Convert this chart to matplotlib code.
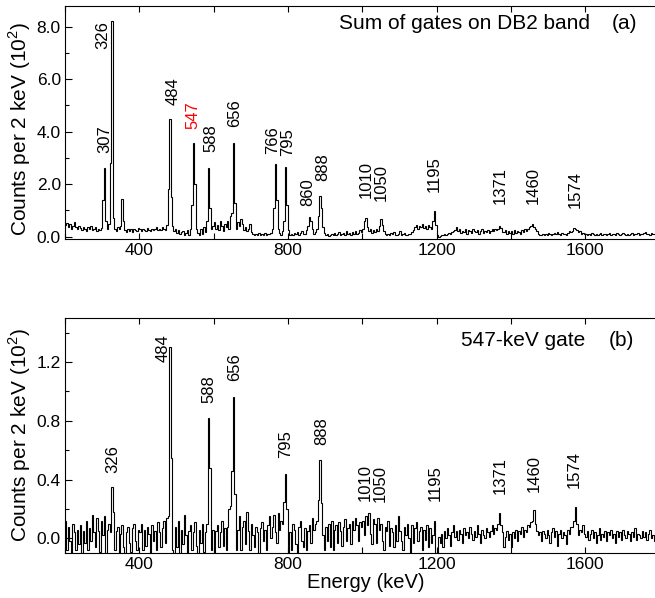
import matplotlib
matplotlib.use("Agg")
import matplotlib.pyplot as plt
import numpy as np
from matplotlib.ticker import MultipleLocator, FormatStrFormatter

plt.rcParams['font.family'] = ['Liberation Sans', 'DejaVu Sans']
plt.rcParams['mathtext.fontset'] = 'custom'
plt.rcParams['mathtext.rm'] = 'Liberation Sans'

# spectra: counts per 2 keV, binned 4 keV wide starting at 200 keV
bin_start = 200
bin_width = 4

sum_counts = [
    45, 52, 38, 48, 30, 42, 55, 35, 28, 40, 33, 25, 38, 30, 22, 35, 28, 40, 25, 30, 36, 22, 30, 27, 33,          # 200-300
    140, 260, 60, 30, 50, 280, 820, 70, 30, 22, 35, 28, 40, 145, 60, 25, 18, 30, 22, 28, 18, 30, 25, 20, 32,     # 300-400
    28, 22, 30, 25, 20, 32, 26, 22, 30, 25, 28, 35, 24, 30, 26, 38, 30, 25, 45, 180, 450, 150, 40, 20, 28,      # 400-500
    15, 25, 10, 18, 22, 8, 15, 25, 5, 30, 120, 355, 200, 30, 15, 5, 28, 10, 35, 18, 60, 260, 110, 30, 40,       # 500-600
    55, 30, 45, 25, 60, 40, 20, 50, 35, 58, 30, 80, 90, 355, 130, 30, 55, 40, 68, 50, 25, 35, 20, 30, 48,       # 600-700
    18, 10, 5, 12, 8, 15, 5, 10, 8, 14, 6, 10, 12, 15, 30, 110, 277, 140, 30, 15, 8, 20, 60, 265, 120,          # 700-800
    25, 8, 12, 5, 15, 10, 18, 8, 14, 20, 12, 10, 25, 40, 75, 60, 30, 12, 18, 30, 80, 155, 110, 35, 15,          # 800-900
    5, 10, 3, 8, 12, 5, 15, 8, 10, 18, 6, 12, 15, 8, 20, 10, 14, 6, 18, 12, 22, 10, 15, 25, 18,                 # 900-1000
    30, 60, 72, 35, 20, 28, 15, 25, 18, 30, 22, 40, 67, 45, 20, 10, 5, 12, 8, 15, 10, 18, 5, 8, 12,             # 1000-1100
    20, 6, 10, 15, 8, 5, 12, 10, 18, 25, 35, 45, 30, 42, 38, 50, 32, 40, 28, 45, 35, 30, 60, 97, 45,            # 1100-1200
    5, 0, 3, 8, 5, 10, 8, 12, 15, 10, 18, 22, 25, 35, 20, 28, 15, 22, 18, 30, 12, 25, 20, 15, 28,               # 1200-1300
    22, 18, 25, 12, 20, 30, 15, 22, 18, 25, 14, 20, 28, 22, 30, 25, 30, 42, 32, 18, 18, 25, 12, 20, 15,         # 1300-1400
    20, 12, 25, 15, 22, 18, 10, 24, 16, 28, 20, 30, 35, 42, 50, 38, 30, 20, 12, 8, 5, 10, 8, 12, 6,             # 1400-1500
    15, 10, 8, 12, 14, 10, 18, 12, 8, 15, 10, 12, 8, 15, 20, 18, 22, 34, 28, 25, 18, 20, 12, 15, 10,            # 1500-1600
    10, 8, 12, 6, 14, 10, 8, 12, 5, 10, 14, 8, 12, 10, 6, 12, 15, 8, 10, 12, 6, 14, 10, 8, 12,                  # 1600-1700
    15, 10, 8, 12, 6, 10, 14, 8, 12, 10, 15, 8, 12, 10, 14, 16, 10, 12, 8, 14, 10, 12, 15, 10, 12,              # 1700-1800
]

gate_counts = [
    12, -8, 8, -2, -10, 10, 4, -8, 6, -4, 9, -10, 5, -3, 12, -8, 7, -2, 16, 4, -6, 14, 5, -9, 12,               # 200-300
    2, 15, -10, 6, 10, 4, 35, 18, -8, 5, 8, -10, 3, 9, -6, -10, 4, 8, -3, -9, 7, 10, -2, -8, 6,                 # 300-400
    4, 10, -8, 6, -5, 8, 3, -10, 9, -2, 5, -8, 11, 4, -6, 7, 12, -3, 14, 15, 130, 55, -8, -10, 8,               # 400-500
    -6, 12, -10, 6, -4, 16, 2, -10, 5, 9, -8, 4, 11, -5, -10, 6, -3, 10, -9, 4, 10, 82, 48, -8, 6,              # 500-600
    -10, 5, 9, -6, 4, 12, -5, 7, -8, 8, 20, 22, 46, 96, 30, -8, 6, 15, -8, 8, 12, -4, 18, 5, -8,                # 600-700
    10, 2, -6, 8, 4, -10, 7, 11, -2, 6, -8, 9, 15, 0, 8, 16, 4, -3, 17, 6, 12, 10, 25, 44, 20,                  # 700-800
    -10, 4, -8, 10, 6, -4, -10, 8, 12, -2, -6, 7, -8, 5, 9, -3, 14, 6, 10, 12, 26, 53, 24, 2, -8,               # 800-900
    8, -2, 10, -6, 12, -8, 6, 9, -3, 11, 5, -5, 8, 13, -2, 7, 10, -4, 12, 6, 14, 9, -2, 11, 8,                  # 900-1000
    12, 2, 15, 9, 17, 3, -4, 13, 10, -3, 14, 6, 10, -2, -8, 8, 5, 12, -5, 7, 4, -6, 9, -2, 15,                  # 1000-1100
    5, -2, -8, 8, 2, 10, 0, -10, 9, -3, 7, 11, -2, 5, 8, -8, 6, -1, 9, -6, 7, -3, 2, 12, -10,                   # 1100-1200
    -10, 1, -3, 3, -6, 5, 0, 7, 2, -5, 4, 9, 1, 5, -1, 6, 3, -3, 7, 2, 4, 0, 8, 3, -1,                          # 1200-1300
    5, 1, 9, 3, -3, 6, 2, 0, 7, 4, 1, 5, 9, 3, 7, 6, 10, 17, 9, 4, -6, 1, 5, -1, 3,                             # 1300-1400
    -6, 4, 0, 6, -2, 5, 3, 8, 1, 6, 4, 9, 8, 11, 12, 19, 10, 5, 2, 4, -2, 5, 3, 0, 6,                           # 1400-1500
    2, -3, 4, 7, 1, 5, -5, 3, 6, 0, 4, 2, -4, 6, 3, 8, 8, 12, 21, 10, 2, 6, 4, 9, 3,                            # 1500-1600
    1, 5, -1, 3, 6, 0, 4, -3, 2, 7, -1, 3, 1, 5, -2, 4, 2, 6, 0, 3, -3, 5, 1, 4, -1,                            # 1600-1700
    6, 2, 0, 5, 3, -2, 4, 1, 7, -1, 3, 2, 0, 5, 1, 4, -1, 3, 6, 0, 2, -2, 4, 1, 5,                              # 1700-1800
]
assert len(sum_counts) == 400 and len(gate_counts) == 400

# peak labels: text, x position (keV), bottom of text (10^2 counts)
sum_labels = ['326', '307', '484', '547', '588', '656', '766', '795', '860', '888',
              '1010', '1050', '1195', '1371', '1460', '1574']
sum_label_x = [302, 308, 490, 544, 593, 657, 760, 800, 854, 894, 1010, 1050, 1195, 1371, 1460, 1573]
sum_label_y = [7.16, 3.19, 5.02, 4.10, 3.23, 4.18, 3.15, 3.07, 1.17, 2.12, 1.46, 1.36, 1.70, 1.24, 1.24, 1.09]
sum_label_colors = ['black'] * 3 + ['red'] + ['black'] * 12

gate_labels = ['326', '484', '588', '656', '795', '888', '1010', '1050', '1195', '1371', '1460', '1574']
gate_label_x = [330, 464, 588, 657, 795, 891, 1008, 1048, 1196, 1371, 1463, 1572]
gate_label_y = [0.445, 1.20, 0.92, 1.07, 0.55, 0.635, 0.255, 0.25, 0.255, 0.305, 0.315, 0.34]

edges = bin_start + bin_width * np.arange(len(sum_counts) + 1)

fig = plt.figure(figsize=(6.55, 5.98), dpi=100)
ax_a = fig.add_axes([65 / 655, 1 - 239.3 / 598, 590 / 655, 233.6 / 598])
ax_b = fig.add_axes([65 / 655, 1 - 553 / 598, 590 / 655, 235 / 598])


def style_axes(ax, ymin, ymax, ymajor, yminor):
    ax.set_xlim(200, 1788)
    ax.set_ylim(ymin, ymax)
    ax.xaxis.set_major_locator(MultipleLocator(400))
    ax.xaxis.set_minor_locator(MultipleLocator(200))
    ax.yaxis.set_major_locator(MultipleLocator(ymajor))
    ax.yaxis.set_minor_locator(MultipleLocator(yminor))
    ax.yaxis.set_major_formatter(FormatStrFormatter('%.1f'))
    ax.tick_params(axis='x', which='both', direction='in', top=True, length=4, width=0.8,
                   labelsize=12.5, pad=3)
    ax.tick_params(axis='y', which='major', direction='in', right=False, length=5, width=0.8,
                   labelsize=12.5, pad=3)
    ax.tick_params(axis='y', which='minor', direction='in', right=False, length=3, width=0.8)
    ax.spines['right'].set_visible(False)
    for side in ('top', 'bottom', 'left'):
        ax.spines[side].set_linewidth(0.8)
    ax.set_ylabel('Counts per 2 keV (10$^{2}$)', fontsize=15)


style_axes(ax_a, -0.1, 8.8, 2.0, 1.0)
style_axes(ax_b, -0.1, 1.5, 0.4, 0.2)
ax_a.yaxis.set_label_coords(-0.055, 0.47)
ax_b.yaxis.set_label_coords(-0.055, 0.5)

ax_a.stairs(np.array(sum_counts) / 100, edges, baseline=None, color='black', lw=0.8)
ax_b.stairs(np.array(gate_counts) / 100, edges, baseline=None, color='black', lw=0.8)

for txt, x, y, c in zip(sum_labels, sum_label_x, sum_label_y, sum_label_colors):
    ax_a.text(x, y, txt, rotation=90, ha='center', va='bottom', fontsize=12, color=c)
for txt, x, y in zip(gate_labels, gate_label_x, gate_label_y):
    ax_b.text(x, y, txt, rotation=90, ha='center', va='bottom', fontsize=12)

ax_a.text(1613, 8.11, 'Sum of gates on DB2 band', ha='right', va='center', fontsize=15)
ax_a.text(1707, 8.11, '(a)', ha='center', va='center', fontsize=15)
ax_b.text(1600, 1.35, '547-keV gate', ha='right', va='center', fontsize=15)
ax_b.text(1698, 1.35, '(b)', ha='center', va='center', fontsize=15)

ax_b.set_xlabel('Energy (keV)', fontsize=14.5)
ax_b.xaxis.set_label_coords(0.509, -0.085)

fig.savefig('out.png', dpi=100)
